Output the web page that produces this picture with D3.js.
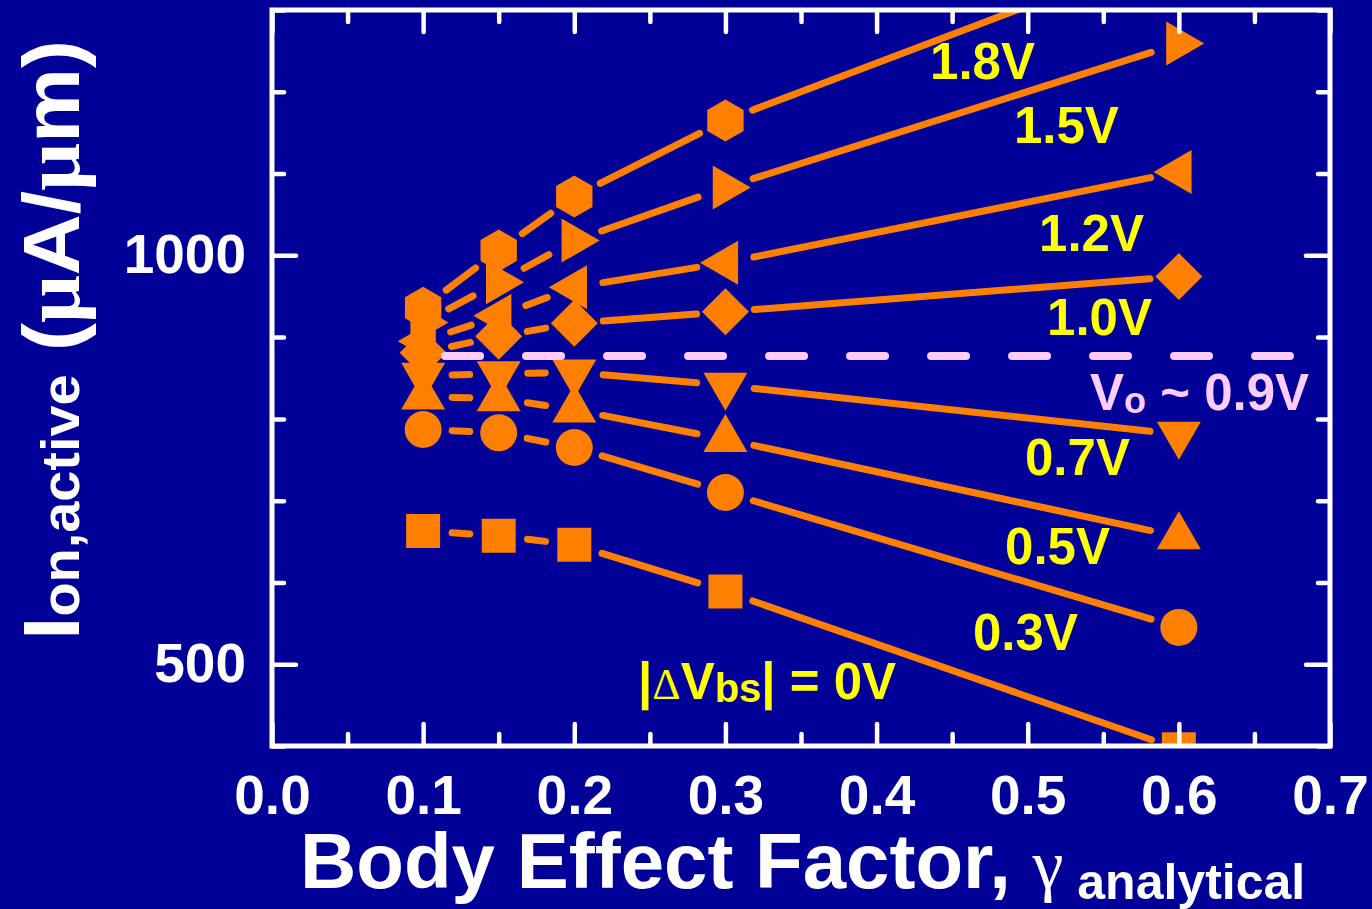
<!DOCTYPE html>
<html lang="en">
<head>
<meta charset="UTF-8">
<title>Ion,active vs Body Effect Factor</title>
<script src="https://cdn.jsdelivr.net/npm/d3@7"></script>
<style>
  html,body{margin:0;padding:0;background:#000099;overflow:hidden;}
  svg{display:block;}
  text{font-family:"Liberation Sans",Arial,sans-serif;font-weight:bold;}
</style>
</head>
<body>
<div id="chart"></div>
<script>
// body effect factor (x) and on-current per |dVbs| step (uA/um)
var gammas = [0.1, 0.15, 0.2, 0.3, 0.6];
var ion0V  = [663, 657, 646, 589, 396];
var ion03V = [787, 783, 765, 710, 545];
var ion05V = [827, 825, 811, 775, 656];
var ion07V = [853, 855, 857, 841, 781];
var ion10V = [881, 901, 917, 931, 974];
var ion12V = [895, 926, 961, 991, 1102];
var ion15V = [918, 967, 1018, 1083, 1259];
var ion18V = [936, 1006, 1072, 1165, 1375];
var seriesNames = ["0V", "0.3V", "0.5V", "0.7V", "1.0V", "1.2V", "1.5V", "1.8V"];
var seriesVals = [ion0V, ion03V, ion05V, ion07V, ion10V, ion12V, ion15V, ion18V];
var seriesShapes = ["square", "circle", "up", "down", "diamond", "left", "right", "hexagon"];

var xMajor = [0, 0.1, 0.2, 0.3, 0.4, 0.5, 0.6, 0.7];
var xMinor = [0.05, 0.15, 0.25, 0.35, 0.45, 0.55, 0.65];
var yMajor = [500, 1000];
var yMinor = [400, 600, 700, 800, 900, 1100, 1200, 1300];
var v0Level = 877;

// label anchors in data units (gamma, Ion)
var labelText = ["1.8V", "1.5V", "1.2V", "1.0V", "0.7V", "0.5V", "0.3V"];
var labelAt = [[0.4354, 1216], [0.4909, 1137], [0.5075, 1005], [0.5128, 903],
               [0.4982, 731], [0.4850, 623], [0.4638, 517]];

var W = 1372, H = 909;
var L = 272, R = 1330, T = 10, B = 746;
var orange = "#ff8000", yellow = "#ffff00", pink = "#ffccff";

var svg = d3.select("#chart").append("svg").attr("width", W).attr("height", H);
svg.append("rect").attr("width", W).attr("height", H).attr("fill", "#000099");

var x = d3.scaleLinear().domain([0, 0.7]).range([L, R]);
var y = d3.scaleLinear().domain([400, 1300]).range([B, T]);

svg.append("defs").append("clipPath").attr("id", "plot")
  .append("rect").attr("x", L).attr("y", T).attr("width", R - L).attr("height", B - T);

// marker shapes, size = radius in px
function poly(pts) {
  return {draw: function(ctx, r) {
    pts.forEach(function(p, i) {
      if (i) ctx.lineTo(p[0] * r, p[1] * r); else ctx.moveTo(p[0] * r, p[1] * r);
    });
    ctx.closePath();
  }};
}
var s3 = Math.sqrt(3) / 2;
var shapes = {
  square:  {type: poly([[-1,-1],[1,-1],[1,1],[-1,1]]), r: 17},
  circle:  {type: {draw: function(ctx, r) { ctx.moveTo(r, 0); ctx.arc(0, 0, r, 0, 2 * Math.PI); }}, r: 18.5},
  up:      {type: poly([[0,-1],[s3,0.5],[-s3,0.5]]), r: 25.4},
  down:    {type: poly([[0,1],[s3,-0.5],[-s3,-0.5]]), r: 25.4},
  left:    {type: poly([[-1,0],[0.5,-s3],[0.5,s3]]), r: 25.4},
  right:   {type: poly([[1,0],[-0.5,-s3],[-0.5,s3]]), r: 25.4},
  diamond: {type: poly([[0,-1],[1,0],[0,1],[-1,0]]), r: 23.5},
  hexagon: {type: poly([[0,-1],[s3,-0.5],[s3,0.5],[0,1],[-s3,0.5],[-s3,-0.5]]), r: 21}
};

var plot = svg.append("g").attr("clip-path", "url(#plot)");
var gap = 29;
var seg = d3.line();

seriesVals.forEach(function(vals, si) {
  var pts = vals.map(function(v, i) { return [x(gammas[i]), y(v)]; });
  var g = plot.append("g").attr("class", "series s" + si);
  for (var i = 0; i < pts.length - 1; i++) {
    var a = pts[i], b = pts[i + 1];
    var dx = b[0] - a[0], dy = b[1] - a[1], len = Math.sqrt(dx * dx + dy * dy);
    var ux = dx / len, uy = dy / len;
    g.append("path")
      .attr("d", seg([[a[0] + ux * gap, a[1] + uy * gap], [b[0] - ux * gap, b[1] - uy * gap]]))
      .attr("stroke", orange).attr("stroke-width", 7).attr("stroke-linecap", "round").attr("fill", "none");
  }
  var sh = shapes[seriesShapes[si]];
  g.selectAll("path.m").data(pts).enter().append("path").attr("class", "m")
    .attr("transform", function(d) { return "translate(" + d[0] + "," + d[1] + ")"; })
    .attr("d", d3.symbol().type(sh.type).size(sh.r))
    .attr("fill", orange);
});

// V0 reference line
svg.append("path")
  .attr("d", d3.line()([[x(0.1145), y(v0Level)], [x(0.6735), y(v0Level)]]))
  .attr("stroke", pink).attr("stroke-width", 8).attr("stroke-linecap", "round")
  .attr("stroke-dasharray", "35 46").attr("fill", "none");

// frame
svg.append("rect").attr("x", L).attr("y", T).attr("width", R - L).attr("height", B - T)
  .attr("fill", "none").attr("stroke", "#fff").attr("stroke-width", 5);

function axisStyle(g) {
  g.select(".domain").remove();
  g.attr("color", "#fff");
  g.selectAll(".tick line").attr("stroke-width", 4.5).attr("stroke-linecap", "round");
  g.selectAll("text").attr("font-family", "Liberation Sans, Arial, sans-serif")
    .attr("font-weight", "bold").attr("font-size", 55).attr("fill", "#fff");
}
svg.append("g").attr("transform", "translate(0," + B + ")")
  .call(d3.axisBottom(x).tickValues(xMajor).tickSize(-22).tickPadding(29).tickFormat(d3.format(".1f"))).call(axisStyle);
svg.append("g").attr("transform", "translate(0," + B + ")")
  .call(d3.axisBottom(x).tickValues(xMinor).tickSize(-12).tickFormat("")).call(axisStyle);
svg.append("g").attr("transform", "translate(0," + T + ")")
  .call(d3.axisTop(x).tickValues(xMajor).tickSize(-22).tickFormat("")).call(axisStyle);
svg.append("g").attr("transform", "translate(0," + T + ")")
  .call(d3.axisTop(x).tickValues(xMinor).tickSize(-12).tickFormat("")).call(axisStyle);
svg.append("g").attr("transform", "translate(" + L + ",0)")
  .call(d3.axisLeft(y).tickValues(yMajor).tickSize(-24).tickPadding(26).tickFormat(d3.format("d"))).call(axisStyle);
svg.append("g").attr("transform", "translate(" + L + ",0)")
  .call(d3.axisLeft(y).tickValues(yMinor).tickSize(-12).tickFormat("")).call(axisStyle);
svg.append("g").attr("transform", "translate(" + R + ",0)")
  .call(d3.axisRight(y).tickValues(yMajor).tickSize(-24).tickFormat("")).call(axisStyle);
svg.append("g").attr("transform", "translate(" + R + ",0)")
  .call(d3.axisRight(y).tickValues(yMinor).tickSize(-12).tickFormat("")).call(axisStyle);

// series labels
svg.selectAll("text.lbl").data(labelText).enter().append("text").attr("class", "lbl")
  .attr("x", function(d, i) { return x(labelAt[i][0]); })
  .attr("y", function(d, i) { return y(labelAt[i][1]); })
  .attr("font-size", 51).attr("fill", yellow).text(function(d) { return d; });

var dv = svg.append("text").attr("x", x(0.2422)).attr("y", y(457.5)).attr("font-size", 51).attr("fill", yellow);
dv.append("tspan").text("|");
dv.append("tspan").attr("font-family", "Liberation Serif, Times New Roman, serif")
  .attr("font-weight", "normal").attr("font-size", 44).text("\u0394");
dv.append("tspan").text("V");
dv.append("tspan").attr("font-size", 40).attr("dy", 3).text("bs");
dv.append("tspan").attr("dy", -3).text("| = 0V");

var vo = svg.append("text").attr("x", x(0.5412)).attr("y", y(811)).attr("font-size", 51).attr("fill", pink);
vo.append("tspan").text("V");
vo.append("tspan").attr("font-size", 36).attr("dy", 3).text("o");
vo.append("tspan").attr("dy", -3).text(" ~ 0.9V");

// axis titles
var xt = svg.append("text").attr("x", 300).attr("y", 888).attr("font-size", 78).attr("fill", "#fff");
xt.append("tspan").text("Body Effect Factor, ");
xt.append("tspan").attr("font-family", "Liberation Serif, Times New Roman, serif").attr("font-weight", "normal")
  .attr("font-size", 70).text("\u03b3");
xt.append("tspan").attr("font-size", 50).attr("dy", 11).text(" analytical");

var yt = svg.append("text").attr("transform", "translate(79,640) rotate(-90)")
  .attr("font-size", 80).attr("fill", "#fff")
  .attr("textLength", 600).attr("lengthAdjust", "spacingAndGlyphs");
yt.append("tspan").text("I");
yt.append("tspan").attr("font-size", 53).text("on,active");
yt.append("tspan").text(" (");
yt.append("tspan").attr("font-family", "Liberation Serif, Times New Roman, serif").attr("font-weight", "bold").text("\u03bc");
yt.append("tspan").text("A/");
yt.append("tspan").attr("font-family", "Liberation Serif, Times New Roman, serif").attr("font-weight", "bold").text("\u03bc");
yt.append("tspan").text("m)");
</script>
</body>
</html>
